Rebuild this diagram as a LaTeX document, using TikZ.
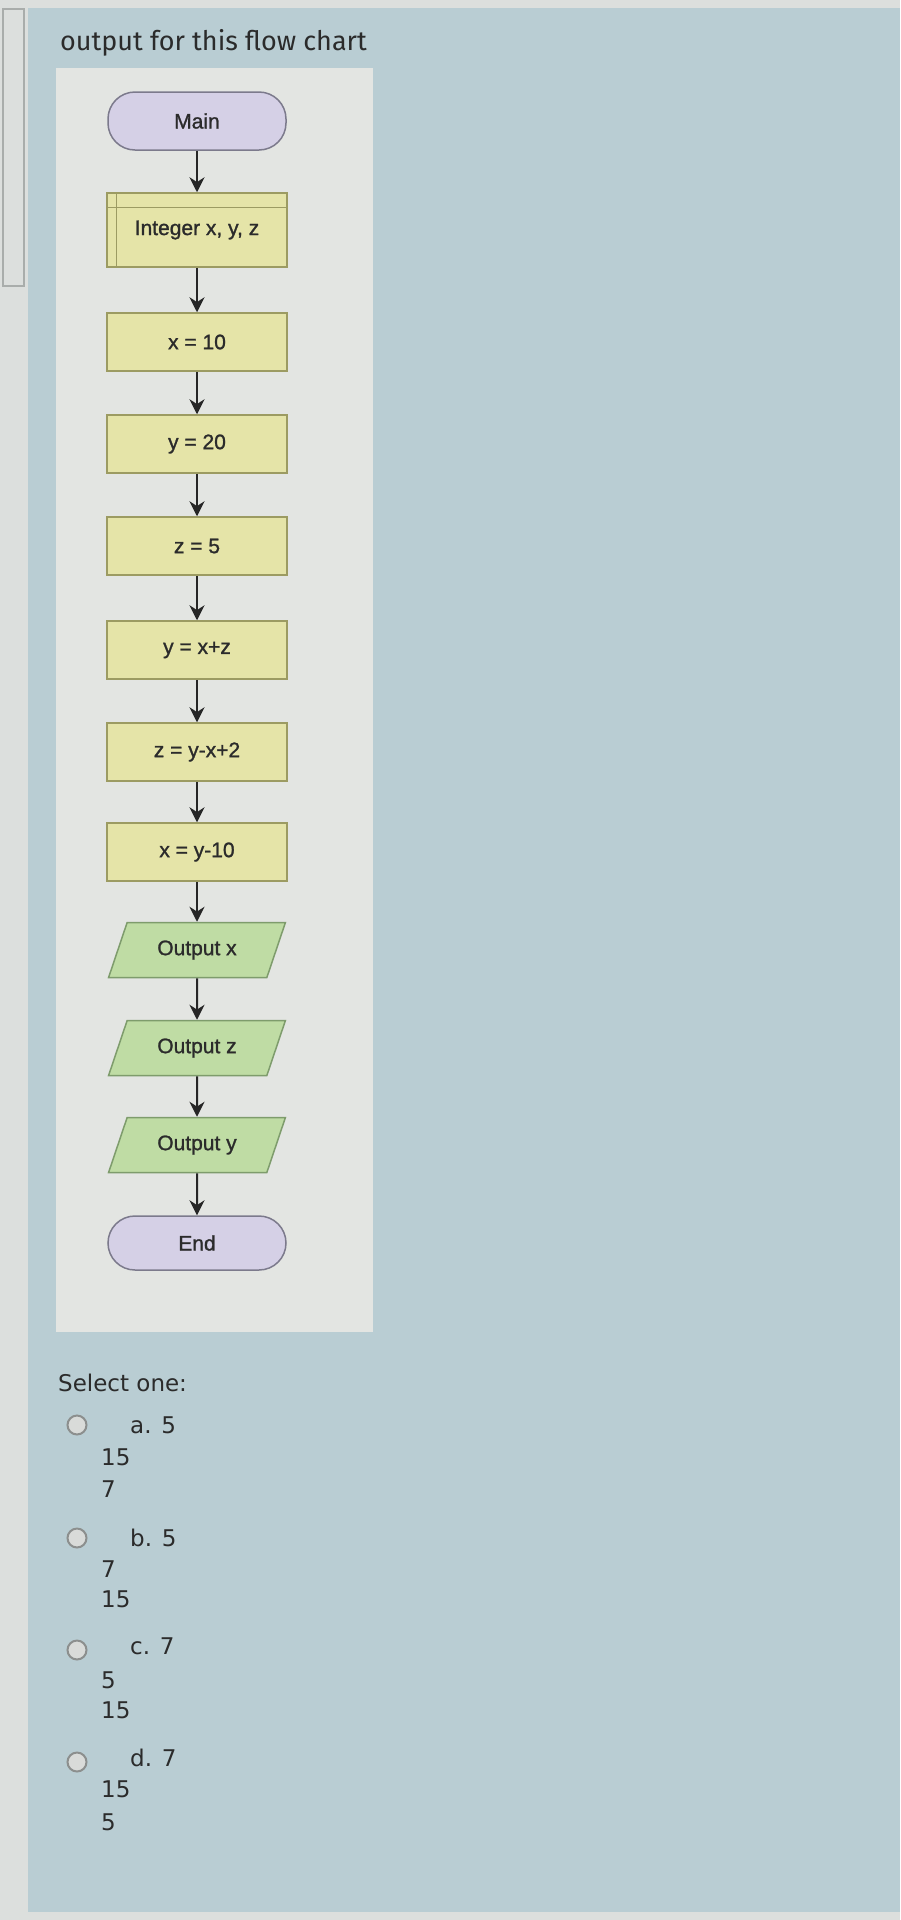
\documentclass[tikz,border=0pt]{standalone}
\usepackage{fontspec}
\setmainfont{DejaVu Sans}
\newfontfamily\chartfont[BoldFont=Liberation Sans, BoldFeatures={FakeBold=1.2}]{Liberation Sans}
\newfontfamily\titlefont{Fira Sans}
\usetikzlibrary{shapes.geometric,arrows.meta}

\definecolor{pagebg}{HTML}{B9CDD3}
\definecolor{stripfill}{HTML}{DCDFDD}
\definecolor{stripline}{HTML}{A9ADAB}
\definecolor{panelfill}{HTML}{E3E5E2}
\definecolor{termfill}{HTML}{D5D0E6}
\definecolor{termline}{HTML}{7C7A8C}
\definecolor{procfill}{HTML}{E5E4A8}
\definecolor{procline}{HTML}{9C9B62}
\definecolor{iofill}{HTML}{BFDCA4}
\definecolor{ioline}{HTML}{7E9C6C}
\definecolor{radiofill}{HTML}{D9DBD9}
\definecolor{radioline}{HTML}{8C8F8E}
\definecolor{inktext}{HTML}{2B2B2B}

\begin{document}
\begin{tikzpicture}[x=1pt,y=-1pt]
\tikzstyle{every node}+=[inner sep=0pt]
\tikzstyle{term}=[draw=termline, fill=termfill, line width=1.5pt, rounded corners=27pt, minimum width=178pt, minimum height=58pt, text=inktext, font=\chartfont\bfseries\fontsize{21}{24}\selectfont]
\tikzstyle{proc}=[draw=procline, fill=procfill, line width=1.5pt, minimum width=180pt, minimum height=58pt, text=inktext, font=\chartfont\bfseries\fontsize{21}{24}\selectfont]
\tikzstyle{io}=[trapezium, trapezium left angle=61, trapezium right angle=119, trapezium stretches=true, draw=ioline, fill=iofill, line width=1.5pt, minimum width=178pt, minimum height=55pt, text=inktext, font=\chartfont\bfseries\fontsize{21}{24}\selectfont]
\tikzstyle{flow}=[draw=black!85, line width=2pt, -{Stealth[length=15pt,width=15pt]}]
\tikzstyle{radio}=[circle, draw=radioline, fill=radiofill, line width=2pt, minimum size=19pt]
\tikzstyle{opt}=[anchor=west, text=inktext, font=\fontsize{23}{27}\selectfont]
\useasboundingbox (0,0) rectangle (900,1920);
\fill [pagebg] (0,0) rectangle (900,1920);
\fill [stripfill] (0,0) rectangle (28,1920);
\fill [stripfill] (0,0) rectangle (900,8);
\fill [stripfill] (0,1912) rectangle (900,1920);
\draw [stripline, line width=1.5pt] (3,9) rectangle (24,286);
\fill [panelfill] (56,68) rectangle (373,1332);
\node [anchor=west, text=inktext, font=\titlefont\fontsize{27}{30}\selectfont] (title) at (60,43) {output for this flow chart};
\node [term] (main) at (197,121) {Main};
\node [proc, minimum height=74pt] (decl) at (197,230) {Integer x, y, z};
\draw [procline, line width=1.5pt] ([yshift=-15pt]decl.north west) -- ([yshift=-15pt]decl.north east);
\draw [procline, line width=1.5pt] ([xshift=10pt]decl.north west) -- ([xshift=10pt]decl.south west);
\node [proc] (xten) at (197,342) {x = 10};
\node [proc] (ytwenty) at (197,444) {y = 20};
\node [proc] (zfive) at (197,546) {z = 5};
\node [proc] (ysum) at (197,650) {y = x+z};
\node [proc] (zdiff) at (197,752) {z = y-x+2};
\node [proc] (xdiff) at (197,852) {x = y-10};
\node [io] (outx) at (197,950) {Output x};
\node [io] (outz) at (197,1048) {Output z};
\node [io] (outy) at (197,1145) {Output y};
\node [term, minimum height=54pt] (end) at (197,1243) {End};
\foreach \a/\b in {main/decl,decl/xten,xten/ytwenty,ytwenty/zfive,zfive/ysum,ysum/zdiff,zdiff/xdiff,xdiff/outx,outx/outz,outz/outy,outy/end}
  \draw [flow] (\a) -- (\b);
\node [opt] (select) at (58,1383) {Select one:};
\node [radio] (ra) at (77,1425) {};
\node [opt] (la) at (130,1425) {a. 5};
\node [opt] (la2) at (101,1457) {15};
\node [opt] (la3) at (101,1489) {7};
\node [radio] (rb) at (77,1538) {};
\node [opt] (lb) at (130,1538) {b. 5};
\node [opt] (lb2) at (101,1569) {7};
\node [opt] (lb3) at (101,1599) {15};
\node [radio] (rc) at (77,1650) {};
\node [opt] (lc) at (130,1646) {c. 7};
\node [opt] (lc2) at (101,1680) {5};
\node [opt] (lc3) at (101,1710) {15};
\node [radio] (rd) at (77,1762) {};
\node [opt] (ld) at (130,1758) {d. 7};
\node [opt] (ld2) at (101,1789) {15};
\node [opt] (ld3) at (101,1822) {5};
\end{tikzpicture}
\end{document}
